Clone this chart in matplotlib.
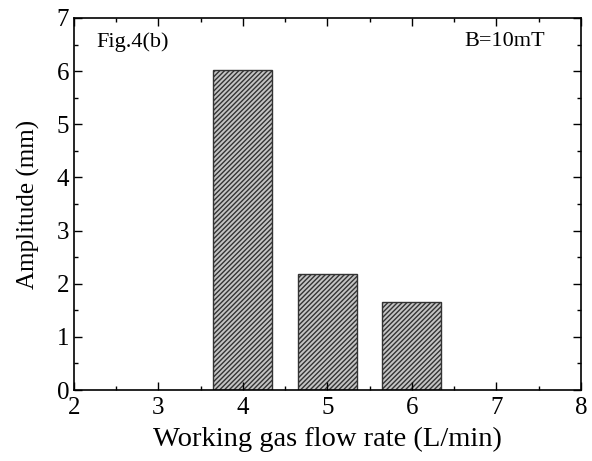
import matplotlib
matplotlib.use('Agg')
import matplotlib.pyplot as plt
from matplotlib.ticker import MultipleLocator

# data
flow_rate = [4, 5, 6]
amplitude = [6.02, 2.18, 1.65]

plt.rcParams['font.family'] = ['Liberation Serif', 'DejaVu Serif']
plt.rcParams['hatch.linewidth'] = 1.0
plt.rcParams['hatch.color'] = '#222222'

fig = plt.figure(figsize=(5.92, 4.61), dpi=100)
ax = fig.add_axes([0.125, 0.154, 0.856, 0.807])

ax.bar(flow_rate, amplitude, width=0.7, color='#c4c4c4', edgecolor='#333333',
       linewidth=1.0, hatch='///////')

ax.set_xlim(2, 8)
ax.set_ylim(0, 7)
ax.xaxis.set_major_locator(MultipleLocator(1))
ax.xaxis.set_minor_locator(MultipleLocator(0.5))
ax.yaxis.set_major_locator(MultipleLocator(1))
ax.yaxis.set_minor_locator(MultipleLocator(0.5))
ax.tick_params(which='both', direction='in', top=True, right=True, labelsize=18)
ax.tick_params(which='major', length=6, width=1)
ax.tick_params(which='minor', length=3, width=1)
ax.tick_params(axis='x', pad=5)
for s in ax.spines.values():
    s.set_linewidth(1.2)

ax.set_xlabel('Working gas flow rate (L/min)', fontsize=20.5, labelpad=6)
ax.set_ylabel('Amplitude (mm)', fontsize=18, labelpad=12)

ax.text(0.045, 0.962, 'Fig.4(b)', transform=ax.transAxes, fontsize=16, va='top', ha='left')
ax.text(0.929, 0.962, 'B=10mT', transform=ax.transAxes, fontsize=16, va='top', ha='right')

fig.savefig('out.png', dpi=100)
